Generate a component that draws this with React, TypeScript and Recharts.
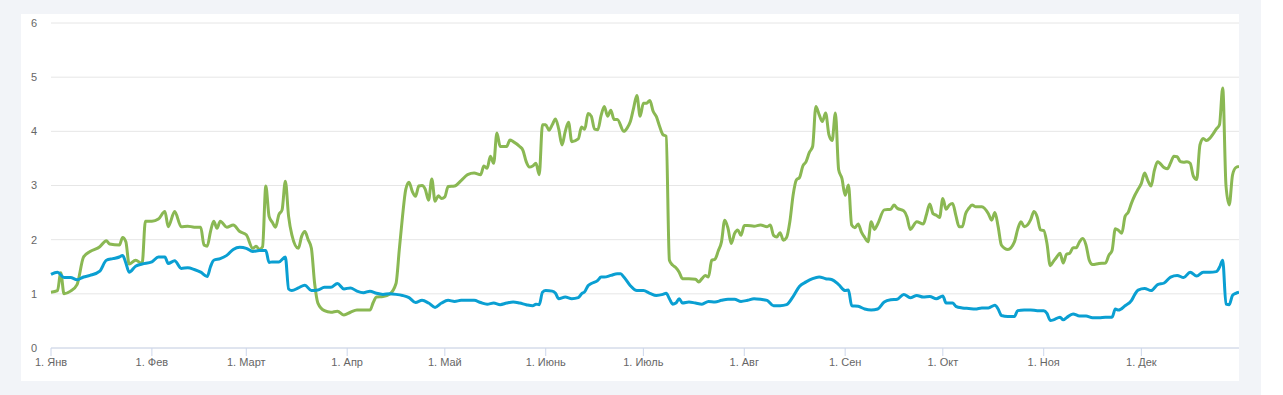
import React from "react";
import { LineChart, Line, XAxis, YAxis, CartesianGrid } from "recharts";

// Day-of-year (leap year, 0 = 1 Jan)
const monthTicks = [0, 31, 60, 91, 121, 152, 182, 213, 244, 274, 305, 335];
const monthLabels = ["1. Янв", "1. Фев", "1. Март", "1. Апр", "1. Май", "1. Июнь", "1. Июль", "1. Авг", "1. Сен", "1. Окт", "1. Ноя", "1. Дек"];
const yTicks = [0, 1, 2, 3, 4, 5, 6];

const greenDays = [0,2,3,4,6,8,10,12,15,17,18,21,22,23,24,26,28,29,31,33,35,36,38,40,42,44,46,47,48,49,50,51,52,54,56,58,60,62,63,64,65,66,67,68,69,70,71,72,73,74,76,77,78,79,80,81,82,84,86,88,90,92,94,96,98,99,100,102,104,106,107,108,109,110,111,112,113,114,115,116,117,118,119,120,121,122,124,126,128,130,132,133,134,135,136,137,138,140,141,142,144,145,146,147,148,149,150,151,152,153,154,155,156,157,158,159,160,162,163,164,165,166,167,168,169,170,171,172,173,174,176,177,178,179,180,181,182,183,184,185,186,187,188,189,190,191,192,193,194,196,198,199,200,201,202,203,204,205,206,207,208,209,210,211,212,213,214,216,218,220,221,222,223,224,225,226,227,228,229,230,231,232,233,234,235,236,237,238,239,240,241,242,243,244,245,246,247,248,249,250,251,252,253,254,256,258,259,260,262,263,264,266,268,269,270,271,272,273,274,275,276,277,278,279,280,281,282,283,284,286,288,289,290,291,292,294,296,297,298,299,300,301,302,303,304,305,306,307,308,309,310,311,312,313,314,315,316,317,318,319,320,322,324,325,326,327,328,329,330,331,332,333,334,335,336,337,338,339,340,342,343,344,345,346,347,348,349,350,351,352,353,354,355,356,357,358,359,360,361,362,363,364,365];
const greenValues = [1.03,1.06,1.39,1.0,1.05,1.17,1.68,1.78,1.87,1.98,1.92,1.9,2.04,1.96,1.55,1.62,1.56,2.34,2.34,2.38,2.52,2.24,2.52,2.24,2.25,2.23,2.23,1.9,1.88,2.15,2.34,2.21,2.34,2.23,2.27,2.15,2.09,1.84,1.88,1.82,1.87,2.99,2.43,2.32,2.23,2.46,2.55,3.08,2.43,2.09,1.84,2.06,2.15,2.0,1.84,1.19,0.83,0.69,0.66,0.68,0.61,0.66,0.7,0.7,0.7,0.84,0.94,0.95,0.99,1.19,1.81,2.43,2.93,3.06,2.89,2.8,2.99,3.0,2.93,2.73,3.12,2.71,2.81,2.76,2.79,2.98,2.99,3.09,3.2,3.23,3.2,3.36,3.32,3.54,3.41,3.97,3.72,3.72,3.84,3.81,3.72,3.65,3.44,3.34,3.36,3.41,3.2,4.12,4.12,4.02,4.12,4.23,4.04,3.75,4.0,4.17,3.81,3.86,4.08,4.04,4.33,4.28,4.04,4.03,4.29,4.46,4.28,4.39,4.22,4.22,4.0,4.06,4.18,4.43,4.66,4.28,4.52,4.52,4.57,4.37,4.27,4.09,3.94,3.91,1.62,1.53,1.48,1.4,1.28,1.28,1.27,1.22,1.28,1.34,1.31,1.62,1.64,1.79,1.96,2.36,2.21,1.93,2.11,2.18,2.08,2.26,2.26,2.25,2.27,2.24,2.27,2.08,2.05,2.13,1.99,2.04,2.33,2.82,3.1,3.15,3.36,3.44,3.61,3.72,4.46,4.31,4.18,4.34,3.94,3.83,4.34,3.29,3.13,2.82,3.01,2.27,2.22,2.29,2.14,2.04,1.96,2.33,2.19,2.29,2.55,2.56,2.64,2.58,2.53,2.42,2.19,2.33,2.29,2.47,2.66,2.48,2.45,2.41,2.76,2.56,2.64,2.67,2.45,2.24,2.24,2.48,2.58,2.64,2.61,2.61,2.48,2.36,2.5,2.24,1.9,1.82,1.96,2.19,2.33,2.24,2.27,2.37,2.52,2.42,2.18,2.17,1.93,1.52,1.6,1.68,1.75,1.57,1.73,1.75,1.85,1.85,1.96,2.02,1.9,1.62,1.54,1.56,1.57,1.71,1.8,2.2,2.17,2.12,2.43,2.51,2.68,2.82,2.93,3.04,3.23,3.09,2.99,3.28,3.44,3.33,3.31,3.42,3.54,3.53,3.44,3.43,3.44,3.41,3.17,3.11,3.75,3.87,3.83,3.87,3.95,4.04,4.12,4.8,3.0,2.64,3.19,3.33,3.35];

const blueDays = [0,2,4,6,8,10,12,15,17,19,21,22,23,24,26,28,31,33,35,36,38,40,42,44,46,48,49,50,52,54,56,58,60,62,64,66,67,68,70,72,73,74,76,78,80,82,84,86,88,90,92,94,96,98,100,102,104,106,108,110,112,114,116,118,120,122,124,126,128,130,132,134,136,138,140,142,144,146,148,149,150,151,152,154,155,156,158,160,162,163,164,165,166,168,169,170,172,174,175,176,178,180,182,184,186,188,189,190,191,192,193,194,196,198,200,202,204,206,208,210,212,214,216,218,220,222,224,226,228,230,232,234,236,238,240,242,244,245,246,248,250,252,254,256,258,260,262,264,266,268,270,272,274,275,277,278,280,282,284,286,288,290,291,292,294,296,297,299,301,303,305,306,307,308,310,311,312,314,316,318,320,322,324,326,327,328,330,332,333,334,336,338,340,342,344,346,348,350,352,354,356,358,359,360,361,362,363,364,365];
const blueValues = [1.36,1.4,1.3,1.3,1.26,1.31,1.34,1.42,1.62,1.65,1.68,1.71,1.57,1.4,1.51,1.55,1.59,1.68,1.68,1.56,1.61,1.47,1.48,1.45,1.4,1.32,1.5,1.62,1.65,1.71,1.82,1.86,1.84,1.78,1.8,1.8,1.58,1.59,1.59,1.68,1.09,1.06,1.11,1.16,1.06,1.07,1.12,1.12,1.19,1.09,1.11,1.05,1.02,1.05,1.01,0.99,1.0,0.99,0.97,0.93,0.84,0.88,0.83,0.75,0.83,0.88,0.86,0.88,0.88,0.88,0.84,0.81,0.83,0.8,0.83,0.85,0.83,0.8,0.78,0.81,0.8,1.03,1.06,1.05,1.01,0.91,0.94,0.91,0.93,1.0,1.04,1.15,1.19,1.25,1.31,1.31,1.34,1.37,1.37,1.31,1.15,1.06,1.06,1.01,0.97,0.99,1.01,0.91,0.81,0.83,0.91,0.83,0.85,0.83,0.81,0.86,0.85,0.88,0.9,0.9,0.86,0.88,0.91,0.9,0.88,0.78,0.78,0.8,0.95,1.14,1.22,1.28,1.31,1.28,1.26,1.17,1.06,1.07,0.78,0.77,0.72,0.7,0.72,0.85,0.89,0.9,0.99,0.93,0.97,0.94,0.95,0.91,0.96,0.83,0.83,0.77,0.74,0.73,0.72,0.74,0.74,0.79,0.72,0.6,0.58,0.58,0.69,0.7,0.7,0.69,0.69,0.64,0.51,0.52,0.57,0.52,0.56,0.63,0.59,0.59,0.56,0.56,0.57,0.57,0.72,0.7,0.78,0.88,0.99,1.07,1.1,1.06,1.17,1.2,1.31,1.34,1.3,1.4,1.33,1.4,1.4,1.41,1.49,1.62,0.81,0.8,0.97,1.01,1.03];

const greenData = greenDays.map((d, i) => ({ day: d, v: greenValues[i] }));
const blueData = blueDays.map((d, i) => ({ day: d, v: blueValues[i] }));

const labelFor = (d: number) => {
  const i = monthTicks.indexOf(d);
  return i >= 0 ? monthLabels[i] : "";
};

const font = "'Liberation Sans', Arial, sans-serif";

export default function App() {
  return (
    <div style={{ width: 1261, height: 395, background: "#f2f4f8", paddingTop: 14, paddingLeft: 21, boxSizing: "border-box" }}>
      <style>{`body{margin:0}`}</style>
      <div style={{ width: 1218, height: 367, background: "#ffffff" }}>
        <LineChart width={1218} height={367} margin={{ top: 9, right: 0, bottom: 0, left: 0 }}>
          <CartesianGrid vertical={false} stroke="#e6e6e6" />
          <XAxis
            type="number"
            dataKey="day"
            domain={[0, 365]}
            ticks={monthTicks}
            interval={0}
            tickFormatter={labelFor}
            height={33}
            stroke="#ccd6eb"
            tickSize={8}
            tickMargin={2}
            tick={{ fill: "#666666", fontSize: 11, fontFamily: font }}
            allowDuplicatedCategory={false}
          />
          <YAxis
            type="number"
            domain={[0, 6]}
            ticks={yTicks}
            interval={0}
            width={30}
            axisLine={false}
            tickLine={false}
            tickSize={0}
            tickMargin={14}
            tick={{ fill: "#666666", fontSize: 11, fontFamily: font }}
          />
          <Line data={greenData} dataKey="v" type="monotone" stroke="#8ab853" strokeWidth={3} strokeLinejoin="round" dot={false} isAnimationActive={false} />
          <Line data={blueData} dataKey="v" type="monotone" stroke="#0a9fd2" strokeWidth={3} strokeLinejoin="round" dot={false} isAnimationActive={false} />
        </LineChart>
      </div>
    </div>
  );
}
